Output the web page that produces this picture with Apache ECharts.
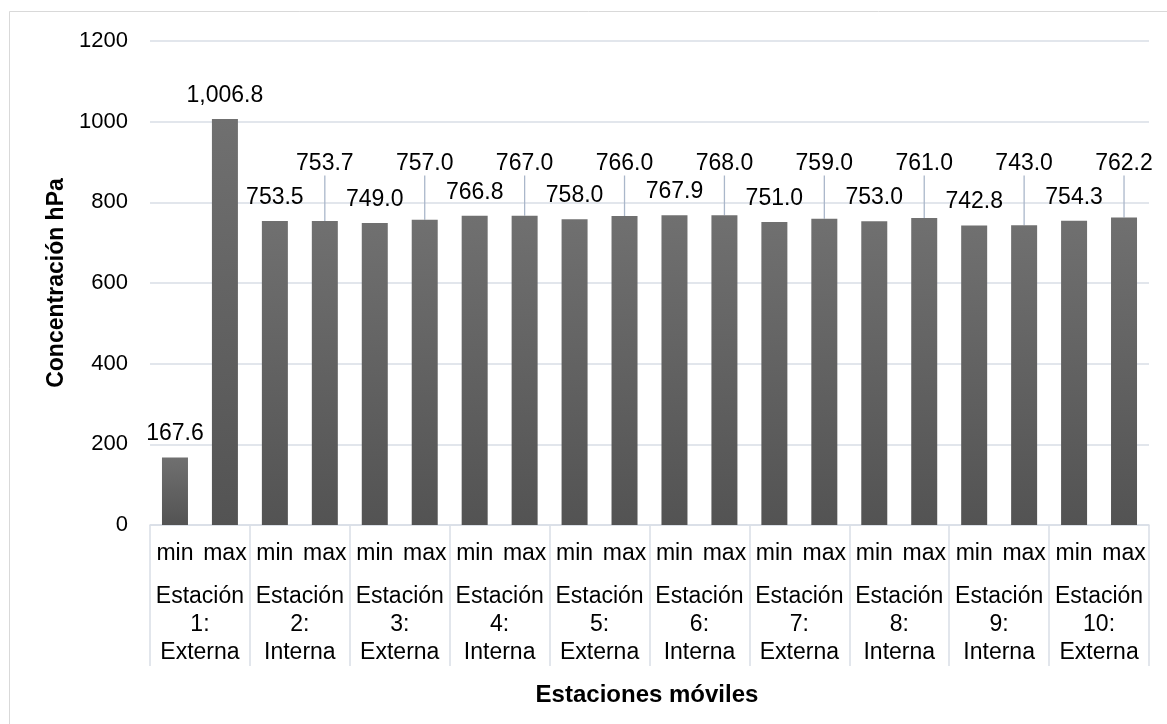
<!DOCTYPE html>
<html>
<head>
<meta charset="utf-8">
<script src="https://cdn.jsdelivr.net/npm/echarts@6/dist/echarts.min.js"></script>
<style>
html,body{margin:0;padding:0;background:#fff;}
#chart{width:1167px;height:724px;}
</style>
</head>
<body>
<div id="chart"></div>
<script>
const subCategories = ['min','max','min','max','min','max','min','max','min','max','min','max','min','max','min','max','min','max','min','max'];
const stations = ['Estación\n1:\nExterna','Estación\n2:\nInterna','Estación\n3:\nExterna','Estación\n4:\nInterna','Estación\n5:\nExterna','Estación\n6:\nInterna','Estación\n7:\nExterna','Estación\n8:\nInterna','Estación\n9:\nInterna','Estación\n10:\nExterna'];
const values = [167.6, 1006.8, 753.5, 753.7, 749.0, 757.0, 766.8, 767.0, 758.0, 766.0, 767.9, 768.0, 751.0, 759.0, 753.0, 761.0, 742.8, 743.0, 754.3, 762.2];
const yTicks = [0, 200, 400, 600, 800, 1000, 1200];

const FONT = 'Liberation Sans, Arial, sans-serif';
const GRID = '#d9dee6';

function fmt(v){
  const parts = v.toFixed(1).split('.');
  parts[0] = parts[0].replace(/\B(?=(\d{3})+(?!\d))/g, ',');
  return parts.join('.');
}
function isRaised(i){ return i >= 3 && i % 2 === 1; }

const seriesData = values.map((v, i) => isRaised(i)
  ? {value: v, labelLine: {show: true, lineStyle: {color: '#aab7ca', width: 1.3}}}
  : {value: v});

const chart = echarts.init(document.getElementById('chart'));
chart.setOption({
  animation: false,
  backgroundColor: '#fff',
  graphic: [{
    type: 'rect', shape: {x: 9.5, y: 11.5, width: 1200, height: 760},
    style: {fill: 'none', stroke: '#d9d9d9', lineWidth: 1}, silent: true, z: -1
  }],
  grid: {left: 150, right: 18, top: 41, bottom: 199},
  xAxis: [{
    type: 'category',
    data: subCategories,
    axisLine: {show: true, lineStyle: {color: GRID, width: 1.5}},
    axisTick: {show: false},
    axisLabel: {interval: 0, margin: 17, color: '#000', fontSize: 23, fontFamily: FONT}
  }, {
    type: 'category',
    data: stations,
    position: 'bottom',
    axisLine: {show: false},
    axisTick: {show: true, interval: 0, length: 141, lineStyle: {color: GRID, width: 1.5}},
    axisLabel: {interval: 0, margin: 58, color: '#000', fontSize: 23, lineHeight: 28, fontFamily: FONT}
  }],
  yAxis: {
    type: 'value',
    min: yTicks[0], max: yTicks[yTicks.length - 1], interval: 200,
    name: 'Concentración hPa',
    nameLocation: 'middle',
    nameGap: 68,
    nameTextStyle: {color: '#000', fontSize: 23, fontWeight: 'bold', fontFamily: FONT},
    axisLine: {show: false},
    axisTick: {show: false},
    axisLabel: {color: '#000', fontSize: 22, margin: 22, fontFamily: FONT, formatter: v => String(v)},
    splitLine: {lineStyle: {color: GRID, width: 1.5}}
  },
  series: [{
    type: 'bar',
    xAxisIndex: 0,
    data: seriesData,
    barWidth: 26,
    itemStyle: {
      color: new echarts.graphic.LinearGradient(0, 0, 0, 1, [
        {offset: 0, color: '#707070'},
        {offset: 1, color: '#535353'}
      ])
    },
    label: {
      show: true, position: 'top', distance: 12,
      color: '#000', fontSize: 23, fontFamily: FONT,
      formatter: p => fmt(p.value)
    },
    labelLine: {show: false},
    labelLayout: function (params) {
      if (isRaised(params.dataIndex)) {
        const c = params.labelRect.y + params.labelRect.height / 2;
        return {dy: 164 - c};
      }
      return {};
    }
  }],
  title: {
    text: 'Estaciones móviles',
    left: 642, top: 678,
    textAlign: 'center',
    textStyle: {color: '#000', fontSize: 24, fontWeight: 'bold', fontFamily: FONT}
  }
});
</script>
</body>
</html>
